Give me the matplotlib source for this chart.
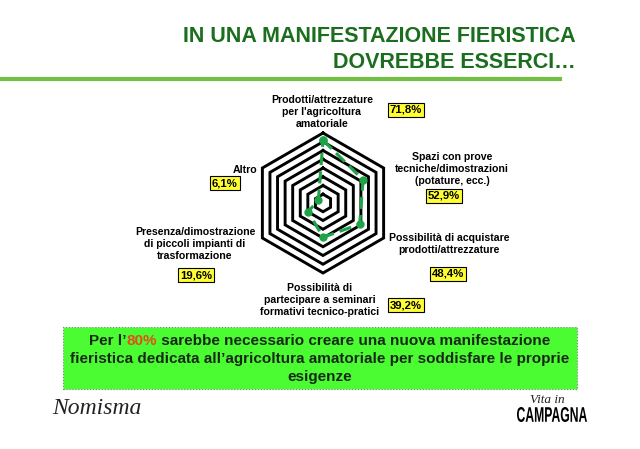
import numpy as np
import matplotlib
matplotlib.use("Agg")
import matplotlib.pyplot as plt
from matplotlib.patches import Rectangle, PathPatch
from matplotlib.textpath import TextPath
from matplotlib.font_manager import FontProperties
from matplotlib.transforms import Affine2D

# ---------------- data ----------------
categories = [
    "Prodotti/attrezzature\nper l'agricoltura\namatoriale",
    "Spazi con prove\ntecniche/dimostrazioni\n(potature, ecc.)",
    "Possibilità di acquistare\nprodotti/attrezzature",
    "Possibilità di\npartecipare a seminari\nformativi tecnico-pratici",
    "Presenza/dimostrazione\ndi piccoli impianti di\ntrasformazione",
    "Altro",
]
values = [71.8, 52.9, 48.4, 39.2, 19.6, 6.1]
value_labels = ["71,8%", "52,9%", "48,4%", "39,2%", "19,6%", "6,1%"]
ring_levels = [10, 20, 30, 40, 50, 60, 70, 80]
title_lines = ["IN UNA MANIFESTAZIONE FIERISTICA", "DOVREBBE ESSERCI…"]
note_parts = ["Per l’", "80%", " sarebbe necessario creare una nuova manifestazione"]
note_lines = ["fieristica dedicata all’agricoltura amatoriale per soddisfare le proprie",
              "esigenze"]

W, H = 640, 449
plt.rcParams['font.family'] = ['Liberation Sans', 'DejaVu Sans']
fig = plt.figure(figsize=(W / 100, H / 100), dpi=100)
fig.patch.set_facecolor('white')

def fx(x):
    return x / W

def fy(y):
    return 1 - y / H

# ---------------- title ----------------
TITLE_C = '#1b6e1e'
fig.text(fx(576), fy(37), title_lines[0], ha='right', va='center',
         fontsize=15.5, fontweight='bold', color=TITLE_C)
fig.text(fx(576), fy(62), title_lines[1], ha='right', va='center',
         fontsize=15.5, fontweight='bold', color=TITLE_C)
fig.add_artist(plt.Line2D([0, fx(560)], [fy(79), fy(79)], color='#72bf44',
                          lw=3, transform=fig.transFigure))

# ---------------- radar ----------------
cx, cy, R = 323, 203, 70
ax = fig.add_axes([fx(cx - R), fy(cy + R), 2 * R / W, 2 * R / H], projection='polar')
ax.set_theta_offset(np.pi / 2)
ax.set_theta_direction(-1)
ax.set_ylim(0, 80)
ax.set_xticks([])
ax.set_yticks([])
ax.grid(False)
ax.spines['polar'].set_visible(False)
ax.patch.set_alpha(0)

n = len(categories)
theta = np.arange(n) * 2 * np.pi / n
theta_c = np.append(theta, theta[0])
for lev in ring_levels:
    ax.plot(theta_c, [lev] * (n + 1), color='black', lw=2.1, solid_joinstyle='miter',
            clip_on=False)
vals_c = values + [values[0]]
ax.plot(theta_c, vals_c, color='#1fa347', lw=2.2, ls=(0, (4, 2)), marker='o',
        markersize=5, clip_on=False, zorder=5)

# ---------------- category labels ----------------
LAB_FS = 7.6
label_pos = [
    (322, 112, 'center'),
    (452, 169, 'center'),
    (449, 244, 'center'),
    (320, 300, 'center'),
    (195, 244, 'center'),
    (257, 170, 'right'),
]
for txt, (x, y, ha) in zip(categories, label_pos):
    fig.text(fx(x), fy(y), txt, ha=ha, va='center', fontsize=LAB_FS,
             fontweight='bold', color='black', linespacing=1.2,
             multialignment='center')

box_pos = [(406, 110), (444, 196), (448, 274), (406, 305), (196, 275), (225, 183)]
for txt, (x, y) in zip(value_labels, box_pos):
    fig.text(fx(x), fy(y), txt, ha='center', va='center', fontsize=8.2,
             fontweight='bold', color='black',
             bbox=dict(boxstyle='square,pad=0.2', facecolor='#ffff33',
                       edgecolor='black', lw=0.8))

# ---------------- note box ----------------
fig.add_artist(Rectangle((fx(63), fy(389)), fx(577) - fx(63), fy(327) - fy(389),
                         transform=fig.transFigure, facecolor='#4cfc33',
                         edgecolor='#7a8a7a', lw=0.8, ls=':'))
NOTE_C = '#172817'
NOTE_FS = 11.0
fig.canvas.draw()
r = fig.canvas.get_renderer()
pieces = []
colors = [NOTE_C, '#e0501a', NOTE_C]
for t, c in zip(note_parts, colors):
    pieces.append(fig.text(0, fy(341), t, ha='left', va='center', fontsize=NOTE_FS,
                           fontweight='bold', color=c))
widths = [p.get_window_extent(r).width for p in pieces]
start = 320 - sum(widths) / 2
for p, w in zip(pieces, widths):
    p.set_x(fx(start))
    start += w
fig.text(fx(320), fy(359), note_lines[0], ha='center', va='center', fontsize=NOTE_FS,
         fontweight='bold', color=NOTE_C)
fig.text(fx(320), fy(377), note_lines[1], ha='center', va='center', fontsize=NOTE_FS,
         fontweight='bold', color=NOTE_C)

# ---------------- logos ----------------
fig.text(fx(52), fy(409), "Nomisma", ha='left', va='center', fontsize=17,
         family='Liberation Serif', style='italic', color='#222222')
fig.text(fx(547), fy(400), "Vita in", ha='center', va='center', fontsize=9.5,
         family='Liberation Serif', style='italic', color='#222222')

# condensed "CAMPAGNA" drawn as a scaled text path in pixel space
tp = TextPath((0, 0), "CAMPAGNA", size=20,
              prop=FontProperties(family='Liberation Sans', weight='bold'))
bb = tp.get_extents()
sx = 70 / bb.width
sy = 15 / bb.height
tr = Affine2D().translate(-bb.x0, -bb.y0).scale(sx, sy).translate(517, H - 422)
patch = PathPatch(tr.transform_path(tp), facecolor='black', edgecolor='none',
                  transform=None)
fig.add_artist(patch)

fig.savefig('out.png', dpi=100, facecolor='white')
